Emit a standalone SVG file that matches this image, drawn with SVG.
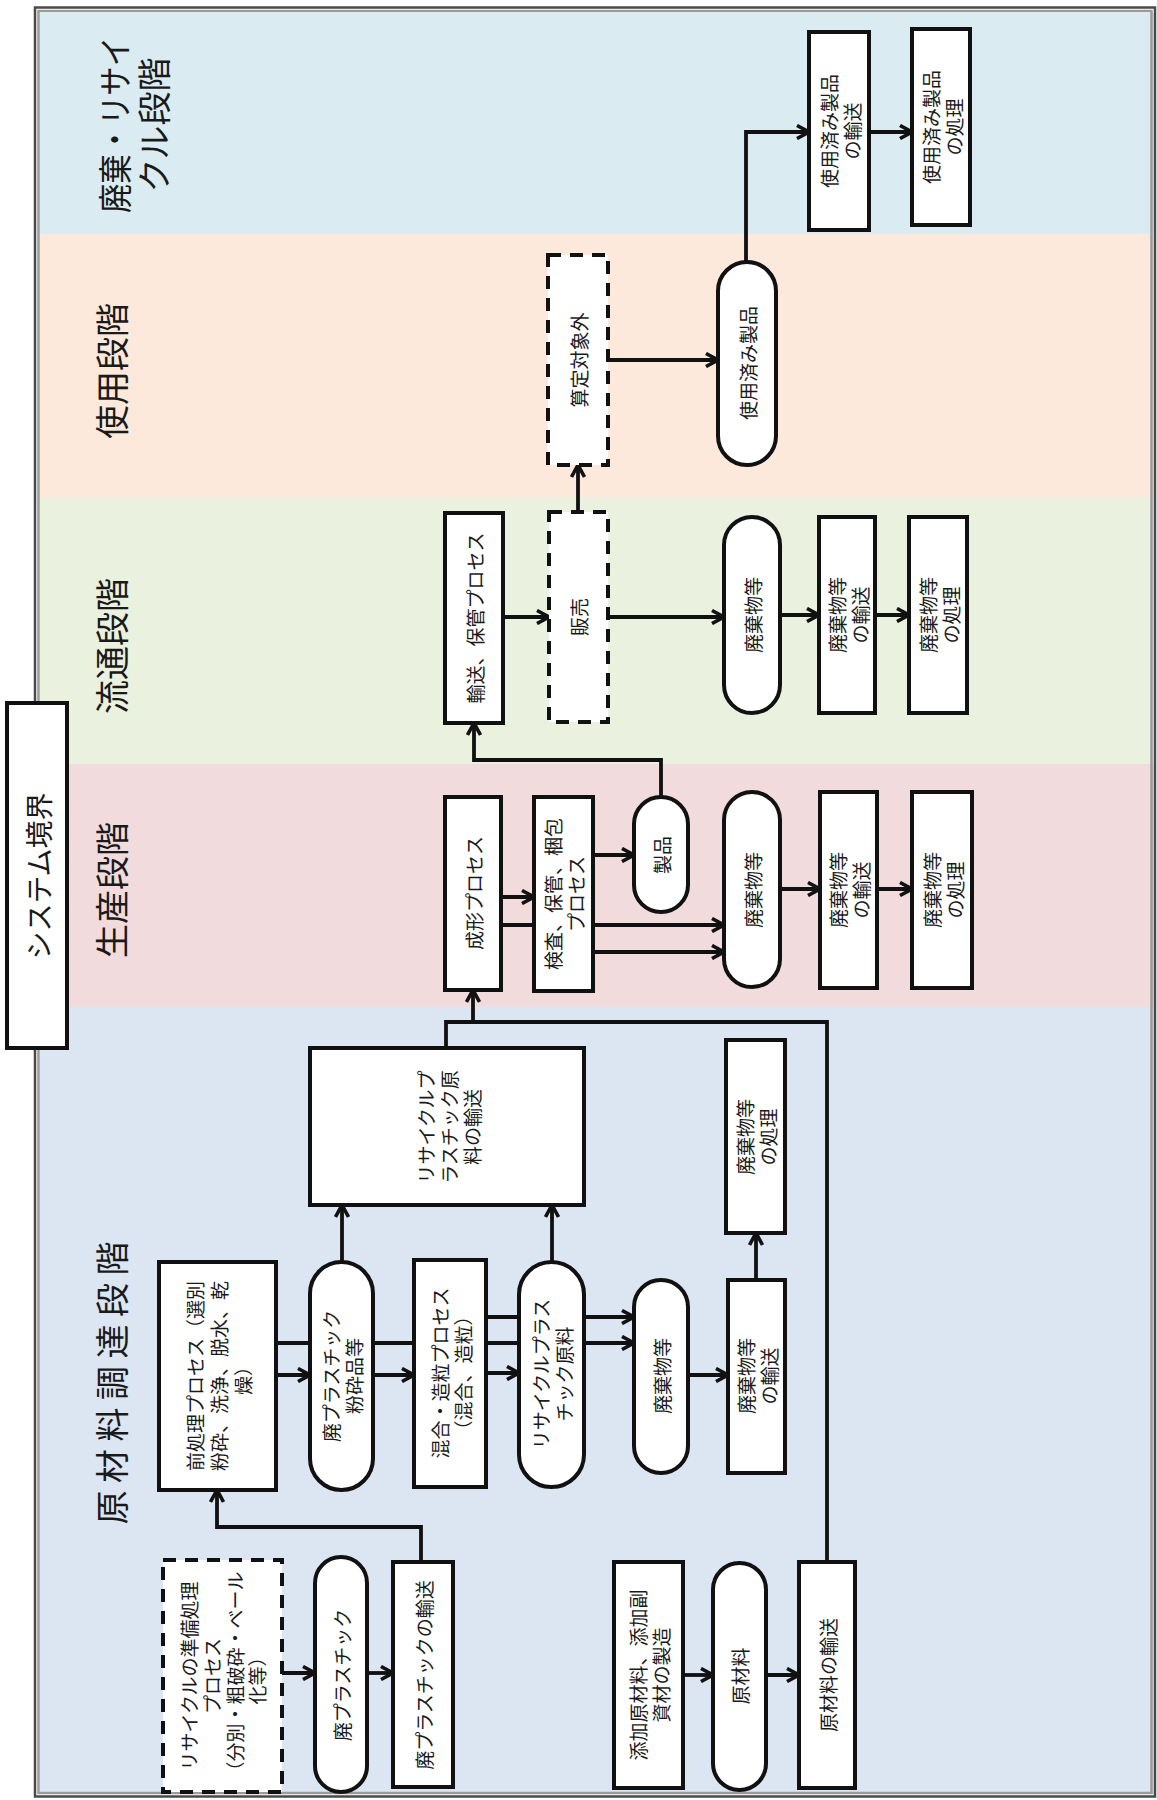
<svg xmlns="http://www.w3.org/2000/svg" width="1157" height="1800" viewBox="0 0 1157 1800">
<style>
.box{fill:#fff;stroke:#111;stroke-width:4}
.dash{fill:#fff;stroke:#111;stroke-width:4;stroke-dasharray:13 9}
.t{font-family:"Noto Sans CJK JP","Noto Sans",sans-serif;font-size:19px;fill:#1a1a1a;text-anchor:middle;dominant-baseline:central}
.st{font-family:"Noto Sans CJK JP","Noto Sans",sans-serif;font-size:34px;fill:#1a1a1a;text-anchor:middle;dominant-baseline:central}
.c{fill:none;stroke:#111;stroke-width:3.8}
.a{fill:none;stroke:#111;stroke-width:3.8;marker-end:url(#arr)}
</style>
<defs>
<marker id="arr" viewBox="0 0 16 16" refX="14" refY="8" markerWidth="16" markerHeight="16" markerUnits="userSpaceOnUse" orient="auto">
<path d="M2,1.5 L14,8 L2,14.5" fill="none" stroke="#111" stroke-width="3.6" stroke-linejoin="miter"/>
</marker>
</defs>
<rect x="0" y="0" width="1157" height="1800" fill="#fff"/>
<g id="bands">
<rect x="40" y="13" width="1114" height="221" fill="#DAECF1"/>
<rect x="40" y="234" width="1114" height="263" fill="#FDE9DB"/>
<rect x="40" y="497" width="1114" height="267" fill="#EBF1DF"/>
<rect x="40" y="764" width="1114" height="243" fill="#F2DBDC"/>
<rect x="40" y="1007" width="1114" height="787" fill="#DCE5F2"/>
</g>
<g id="frame">
<rect x="35" y="7.5" width="1120" height="1789" fill="none" stroke="#4a4a4a" stroke-width="2.5"/>
<rect x="38.5" y="11" width="1113" height="1782" fill="none" stroke="#9a9a9a" stroke-width="2.5"/>
</g>
<g id="stage-labels">
<text class="st" transform="translate(132 125) rotate(-90)"><tspan x="0" y="-19.5" textLength="176" lengthAdjust="spacingAndGlyphs">廃棄・リサイ</tspan><tspan x="0" y="19.5">クル段階</tspan></text>
<text class="st" transform="translate(110 371) rotate(-90)">使用段階</text>
<text class="st" transform="translate(110 646) rotate(-90)">流通段階</text>
<text class="st" transform="translate(110 890) rotate(-90)">生産段階</text>
<text class="st" transform="translate(110 1383) rotate(-90)" textLength="283" lengthAdjust="spacing">原材料調達段階</text>
</g>
<g id="system-boundary">
<rect x="7" y="703" width="60" height="345" fill="#fff" stroke="#111" stroke-width="4"/>
<text class="st" style="font-size:28px" transform="translate(38 876) rotate(-90)">システム境界</text>
</g>
<g id="connectors">
<path class="a" d="M608,360 H718"/>
<path class="a" d="M746,262 V132 H809"/>
<path class="a" d="M869,132 H912"/>
<path class="a" d="M578,512 V465"/>
<path class="a" d="M503,617 H549"/>
<path class="a" d="M608,617 H724"/>
<path class="a" d="M661,797 V760 H474 V723"/>
<path class="a" d="M780,615 H819"/>
<path class="a" d="M875,615 H909"/>
<path class="a" d="M501,897 H534"/>
<path class="a" d="M501,925 H724"/>
<path class="a" d="M593,952 H724"/>
<path class="a" d="M593,855 H634"/>
<path class="a" d="M780,889 H820"/>
<path class="a" d="M877,889 H912"/>
<path class="c" d="M446,1048 V1022 H827 V1562"/>
<path class="a" d="M473,1022 V990"/>
<path class="a" d="M342,1262 V1205"/>
<path class="a" d="M552,1262 V1205"/>
<path class="a" d="M276,1375 H310"/>
<path class="a" d="M373,1375 H414"/>
<path class="a" d="M486,1373 H519"/>
<path class="a" d="M486,1317 H634"/>
<path class="a" d="M276,1343 H634"/>
<path class="a" d="M688,1375 H728"/>
<path class="a" d="M756,1280 V1233"/>
<path class="a" d="M282,1673 H315"/>
<path class="a" d="M367,1673 H393"/>
<path class="a" d="M421,1562 V1527 H217 V1490"/>
<path class="a" d="M683,1675 H713"/>
<path class="a" d="M766,1675 H799"/>
</g>
<g id="n-santei"><rect class="dash" x="548" y="255" width="60" height="210"/><text class="t" transform="translate(578 360) rotate(-90)">算定対象外</text></g>
<g id="n-used"><rect class="box" x="718" y="262" width="58" height="203" rx="29"/><text class="t" transform="translate(747 363) rotate(-90)">使用済み製品</text></g>
<g id="n-used-trans"><rect class="box" x="809" y="32" width="60" height="198"/><text class="t" transform="translate(839 131) rotate(-90)"><tspan x="0" y="-11.5">使用済み製品</tspan><tspan x="0" y="11.5">の輸送</tspan></text></g>
<g id="n-used-treat"><rect class="box" x="912" y="29" width="58" height="196"/><text class="t" transform="translate(941 127) rotate(-90)"><tspan x="0" y="-11.5">使用済み製品</tspan><tspan x="0" y="11.5">の処理</tspan></text></g>
<g id="n-dist"><rect class="box" x="445" y="513" width="58" height="210"/><text class="t" transform="translate(474 618) rotate(-90)">輸送、保管プロセス</text></g>
<g id="n-sale"><rect class="dash" x="549" y="512" width="59" height="210"/><text class="t" transform="translate(578 617) rotate(-90)">販売</text></g>
<g id="n-dist-waste"><rect class="box" x="724" y="517" width="56" height="196" rx="28"/><text class="t" transform="translate(752 615) rotate(-90)">廃棄物等</text></g>
<g id="n-dist-waste-trans"><rect class="box" x="819" y="517" width="56" height="196"/><text class="t" transform="translate(847 615) rotate(-90)"><tspan x="0" y="-11.5">廃棄物等</tspan><tspan x="0" y="11.5">の輸送</tspan></text></g>
<g id="n-dist-waste-treat"><rect class="box" x="909" y="517" width="58" height="196"/><text class="t" transform="translate(938 615) rotate(-90)"><tspan x="0" y="-11.5">廃棄物等</tspan><tspan x="0" y="11.5">の処理</tspan></text></g>
<g id="n-mold"><rect class="box" x="445" y="797" width="56" height="193"/><text class="t" transform="translate(473 893) rotate(-90)">成形プロセス</text></g>
<g id="n-inspect"><rect class="box" x="534" y="797" width="59" height="194"/><text class="t" transform="translate(563 894) rotate(-90)"><tspan x="0" y="-11.5">検査、保管、梱包</tspan><tspan x="0" y="11.5">プロセス</tspan></text></g>
<g id="n-product"><rect class="box" x="634" y="797" width="54" height="115" rx="27"/><text class="t" transform="translate(661 855) rotate(-90)">製品</text></g>
<g id="n-prod-waste"><rect class="box" x="724" y="792" width="56" height="195" rx="28"/><text class="t" transform="translate(752 890) rotate(-90)">廃棄物等</text></g>
<g id="n-prod-waste-trans"><rect class="box" x="820" y="792" width="57" height="196"/><text class="t" transform="translate(848 890) rotate(-90)"><tspan x="0" y="-11.5">廃棄物等</tspan><tspan x="0" y="11.5">の輸送</tspan></text></g>
<g id="n-prod-waste-treat"><rect class="box" x="912" y="792" width="60" height="196"/><text class="t" transform="translate(942 890) rotate(-90)"><tspan x="0" y="-11.5">廃棄物等</tspan><tspan x="0" y="11.5">の処理</tspan></text></g>
<g id="n-recycled-trans"><rect class="box" x="310" y="1048" width="274" height="157"/><text class="t" transform="translate(448 1127) rotate(-90)"><tspan x="0" y="-23">リサイクルプ</tspan><tspan x="0" y="0">ラスチック原</tspan><tspan x="0" y="23">料の輸送</tspan></text></g>
<g id="n-raw-waste-treat"><rect class="box" x="726" y="1040" width="59" height="193"/><text class="t" transform="translate(755 1137) rotate(-90)"><tspan x="0" y="-11.5">廃棄物等</tspan><tspan x="0" y="11.5">の処理</tspan></text></g>
<g id="n-pretreat"><rect class="box" x="159" y="1262" width="117" height="228"/><text class="t" transform="translate(218 1376) rotate(-90)"><tspan x="0" y="-24">前処理プロセス（選別</tspan><tspan x="0" y="0">粉砕、洗浄、脱水、乾</tspan><tspan x="0" y="24">燥）</tspan></text></g>
<g id="n-crushed"><rect class="box" x="310" y="1262" width="63" height="228" rx="31.5"/><text class="t" transform="translate(341 1376) rotate(-90)"><tspan x="0" y="-11.5">廃プラスチック</tspan><tspan x="0" y="11.5">粉砕品等</tspan></text></g>
<g id="n-mix"><rect class="box" x="414" y="1260" width="72" height="227"/><text class="t" transform="translate(450 1373) rotate(-90)"><tspan x="0" y="-11.5">混合・造粒プロセス</tspan><tspan x="0" y="11.5">（混合、造粒）</tspan></text></g>
<g id="n-recycled"><rect class="box" x="519" y="1262" width="65" height="225" rx="32.5"/><text class="t" transform="translate(551 1374) rotate(-90)"><tspan x="0" y="-11.5">リサイクルプラス</tspan><tspan x="0" y="11.5">チック原料</tspan></text></g>
<g id="n-raw-waste"><rect class="box" x="634" y="1280" width="54" height="193" rx="27"/><text class="t" transform="translate(661 1376) rotate(-90)">廃棄物等</text></g>
<g id="n-raw-waste-trans"><rect class="box" x="728" y="1280" width="57" height="193"/><text class="t" transform="translate(756 1376) rotate(-90)"><tspan x="0" y="-11.5">廃棄物等</tspan><tspan x="0" y="11.5">の輸送</tspan></text></g>
<g id="n-prep"><rect class="dash" x="163" y="1560" width="119" height="232"/><text class="t" transform="translate(222 1676) rotate(-90)"><tspan x="0" y="-34">リサイクルの準備処理</tspan><tspan x="0" y="-11.5">プロセス</tspan><tspan x="0" y="11.5">（分別・粗破砕・ベール</tspan><tspan x="0" y="34">化等）</tspan></text></g>
<g id="n-wasteplastic"><rect class="box" x="315" y="1557" width="52" height="235" rx="26"/><text class="t" transform="translate(341 1675) rotate(-90)">廃プラスチック</text></g>
<g id="n-wasteplastic-trans"><rect class="box" x="393" y="1562" width="60" height="225"/><text class="t" transform="translate(423 1675) rotate(-90)">廃プラスチックの輸送</text></g>
<g id="n-additive"><rect class="box" x="614" y="1562" width="69" height="226"/><text class="t" transform="translate(648 1675) rotate(-90)"><tspan x="0" y="-11.5">添加原材料、添加副</tspan><tspan x="0" y="11.5">資材の製造</tspan></text></g>
<g id="n-raw"><rect class="box" x="713" y="1563" width="53" height="227" rx="26.5"/><text class="t" transform="translate(739 1676) rotate(-90)">原材料</text></g>
<g id="n-raw-trans"><rect class="box" x="799" y="1562" width="56" height="226"/><text class="t" transform="translate(827 1675) rotate(-90)">原材料の輸送</text></g>
</svg>
